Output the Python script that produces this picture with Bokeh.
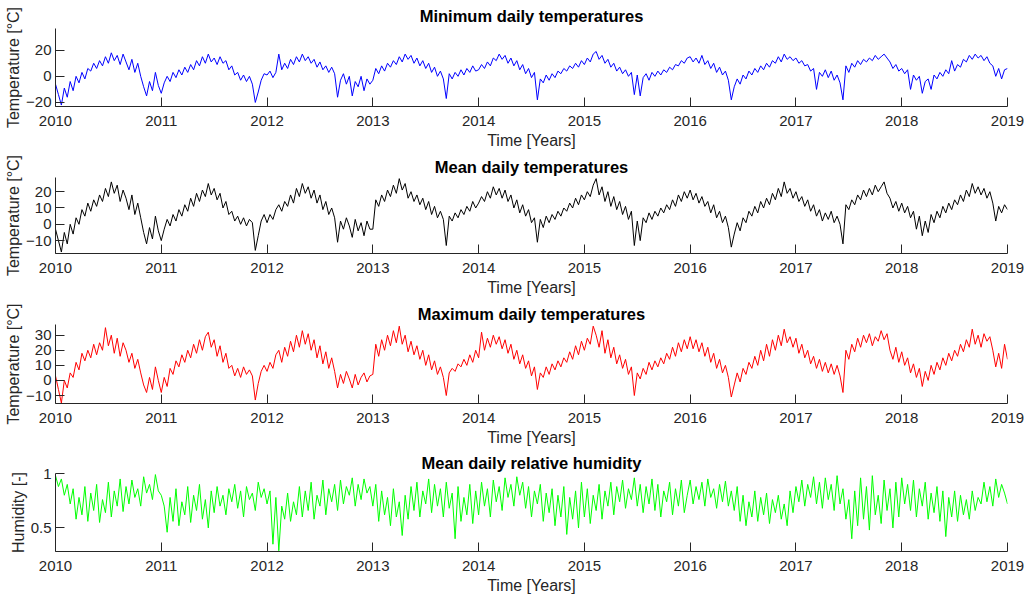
import numpy as np
from bokeh.plotting import figure
from bokeh.layouts import column
from bokeh.models import Range1d, FixedTicker
from bokeh.embed import file_html
from bokeh.resources import INLINE

# ---- data: values, ~every 10 days (36 per year) ----
start_year = 2010
samples_per_year = 36

tmin = [
    -6, -14, -22, -9, -16, -4, -11, 0, -5, 3, -2, 6,
    4, 10, 6, 12, 8, 15, 10, 18, 12, 16, 9, 17,
    11, 5, 13, 3, 10, 0, -8, -15, -4, -11, 3, -7,
    -13, -5, 0, -4, 3, -1, 5, 1, 7, 3, 9, 5,
    12, 8, 15, 10, 17, 11, 14, 9, 15, 10, 12, 5,
    8, 1, 3, -3, 1, -4, 0, -6, -20, -12, -3, 2,
    1, 4, -1, 3, 17, 5, 10, 6, 13, 9, 15, 11,
    17, 12, 15, 10, 13, 7, 11, 5, 8, 3, 7, 2,
    -16, -3, 2, -6, 0, -15, -4, -8, 0, -11, -2, -6,
    -3, 6, 2, 8, 4, 10, 7, 12, 9, 15, 11, 17,
    13, 16, 10, 14, 8, 12, 6, 10, 3, 7, 0, 4,
    -2, -17, 2, -2, 3, 0, 5, 1, 6, 3, 8, 4,
    5, 9, 6, 11, 8, 14, 12, 17, 13, 16, 10, 14,
    8, 12, 5, 9, 2, 6, -1, 3, -18, -2, -5, 1,
    -3, 2, -1, 4, 2, 6, 4, 8, 6, 10, 7, 12,
    9, 14, 11, 17, 19, 13, 16, 10, 13, 7, 10, 4,
    7, 2, 5, 0, 3, -14, 1, -15, -1, 2, -3, 3,
    0, 4, 1, 5, 3, 7, 5, 9, 8, 12, 10, 14,
    15, 11, 14, 10, 16, 9, 12, 6, 10, 3, 7, 1,
    4, -3, -18, -8, -2, -6, 1, -2, 4, 1, 6, 3,
    8, 5, 10, 7, 12, 10, 15, 11, 17, 13, 15, 12,
    14, 10, 12, 8, 9, 4, 6, -10, 3, 0, 5, -1,
    4, -3, 1, -5, -18, 8, 3, 10, 7, 12, 9, 13,
    11, 14, 12, 16, 13, 15, 17, 14, 11, 6, 9, 4,
    6, 2, 5, -10, 1, -3, 0, -13, -4, -2, -10, 1,
    -2, 3, 0, 5, 2, 12, 4, 9, 7, 13, 11, 16,
    13, 17, 14, 16, 12, 15, 10, 8, 0, 6, -2, 5,
    6,
]

tmean = [
    -3, -10, -17, -5, -12, 0, -6, 4, 0, 9, 5, 13,
    8, 15, 11, 18, 14, 22, 17, 26, 19, 24, 14, 21,
    16, 9, 18, 6, 13, 4, -5, -12, -2, -9, 5, -4,
    -10, -3, 3, -1, 6, 2, 9, 5, 12, 8, 16, 11,
    19, 14, 21, 17, 25, 18, 22, 15, 19, 10, 14, 6,
    8, 2, 5, 0, 4, -1, 3, 1, -16, -7, 2, 6,
    1, 6, 3, 9, 12, 8, 14, 11, 18, 13, 22, 17,
    25, 19, 23, 16, 21, 13, 18, 9, 14, 6, 10, 4,
    -11, 2, -3, 4, -1, -8, 3, -4, 1, -7, 2, -3,
    -3, 15, 11, 18, 14, 21, 17, 24, 19, 28, 21, 25,
    16, 20, 14, 18, 12, 16, 9, 14, 6, 11, 4, 8,
    3, -13, 5, 2, 7, 4, 9, 6, 11, 8, 14, 10,
    13, 17, 14, 20, 16, 23, 18, 22, 16, 21, 14, 18,
    10, 15, 7, 12, 5, 9, 1, 4, -11, 3, -2, 5,
    1, 6, 3, 8, 5, 10, 8, 13, 10, 16, 12, 18,
    15, 20, 17, 24, 28, 18, 23, 14, 20, 11, 17, 9,
    14, 6, 11, 3, 8, -13, 2, -10, 4, 1, 7, 3,
    8, 5, 10, 7, 12, 9, 15, 11, 18, 14, 20, 16,
    21, 15, 19, 13, 17, 11, 14, 7, 12, 4, 8, 1,
    5, -2, -14, -6, 1, -4, 4, 1, 8, 5, 11, 7,
    14, 10, 16, 12, 19, 15, 22, 17, 26, 19, 22, 16,
    20, 14, 17, 11, 15, 8, 12, 5, 9, 2, 7, 3,
    8, 1, 5, 0, -12, 12, 9, 15, 12, 18, 15, 21,
    17, 22, 18, 24, 20, 23, 26, 19, 16, 10, 14, 8,
    13, 7, 11, 4, 8, -3, 5, -7, 2, -5, 6, 1,
    8, 4, 11, 7, 13, 9, 15, 12, 18, 14, 21, 17,
    25, 19, 23, 18, 22, 16, 20, 13, 2, 11, 7, 12,
    9,
]

tmax = [
    3, -6, -15, 0, -5, 5, 2, 12, 7, 18, 13, 20,
    15, 24, 17, 25, 20, 35, 23, 30, 18, 28, 16, 25,
    20, 12, 18, 8, 14, 5, -3, -8, 2, -6, 9, 0,
    -8, 2, -4, 8, 4, 13, 9, 17, 12, 20, 15, 24,
    18, 27, 20, 29, 32, 22, 27, 16, 23, 12, 18, 8,
    10, 3, 8, 2, 9, 4, 7, 3, -13, -2, 6, 10,
    6, 12, 8, 17, 20, 12, 22, 16, 26, 19, 30, 22,
    33, 24, 31, 20, 27, 15, 23, 11, 19, 8, 15, 6,
    -5, 4, -2, 6, 1, -5, 4, -3, 2, 5, -1, 3,
    4, 24, 16, 27, 20, 30, 23, 33, 25, 36, 24, 30,
    19, 26, 17, 23, 14, 20, 10, 17, 7, 13, 4, 9,
    2, -10, 5, 8, 6, 11, 9, 14, 10, 17, 12, 20,
    15, 32, 20, 28, 22, 30, 24, 29, 21, 27, 18, 24,
    14, 20, 11, 17, 8, 13, 3, 9, -6, 5, 2, 9,
    4, 11, 7, 13, 9, 15, 12, 19, 14, 23, 17, 26,
    20, 28, 24, 36, 30, 22, 33, 18, 27, 15, 22, 11,
    17, 8, 14, 4, 9, -10, 5, 1, 8, 4, 12, 7,
    13, 9, 15, 11, 18, 14, 22, 16, 25, 19, 27, 21,
    29, 21, 27, 19, 25, 16, 22, 12, 18, 8, 14, 5,
    10, 2, -11, -3, 5, -1, 8, 4, 12, 8, 16, 10,
    20, 13, 24, 16, 27, 20, 30, 23, 34, 25, 29, 22,
    28, 18, 24, 15, 20, 11, 16, 8, 14, 6, 12, 5,
    11, 4, 10, 3, -8, 20, 14, 24, 19, 28, 22, 30,
    25, 31, 23, 29, 26, 33, 27, 31, 20, 14, 22, 12,
    19, 10, 15, 5, 11, 2, 8, -4, 6, 0, 10, 4,
    12, 7, 15, 10, 18, 13, 20, 16, 24, 19, 27, 22,
    34, 24, 30, 22, 31, 26, 29, 20, 9, 18, 8, 24,
    14,
]

humidity = [
    0.98, 0.88, 0.95, 0.80, 0.90, 0.72, 0.86, 0.58, 0.78, 0.62, 0.88, 0.56,
    0.82, 0.66, 0.90, 0.55, 0.76, 0.64, 0.92, 0.60, 0.84, 0.70, 0.95, 0.65,
    0.88, 0.72, 0.94, 0.78, 0.86, 0.70, 0.97, 0.82, 0.90, 0.76, 0.99, 0.84,
    0.80, 0.70, 0.46, 0.78, 0.56, 0.86, 0.52, 0.74, 0.62, 0.88, 0.55, 0.80,
    0.66, 0.90, 0.58, 0.76, 0.50, 0.84, 0.64, 0.88, 0.70, 0.80, 0.62, 0.86,
    0.74, 0.90, 0.68, 0.84, 0.60, 0.88, 0.76, 0.82, 0.66, 0.92, 0.78, 0.86,
    0.72, 0.84, 0.35, 0.78, 0.29, 0.70, 0.58, 0.82, 0.56, 0.74, 0.62, 0.88,
    0.60, 0.84, 0.66, 0.92, 0.58, 0.80, 0.70, 0.94, 0.62, 0.86, 0.74, 0.90,
    0.66, 0.94, 0.72, 0.88, 0.80, 0.96, 0.70, 0.90, 0.76, 0.95, 0.82, 0.88,
    0.70, 0.90, 0.56, 0.84, 0.62, 0.78, 0.52, 0.86, 0.60, 0.74, 0.43, 0.80,
    0.58, 0.88, 0.66, 0.92, 0.60, 0.84, 0.72, 0.95, 0.64, 0.90, 0.70, 0.86,
    0.60, 0.92, 0.68, 0.82, 0.40, 0.88, 0.56, 0.78, 0.62, 0.90, 0.54, 0.84,
    0.62, 0.92, 0.70, 0.86, 0.60, 0.94, 0.74, 0.88, 0.66, 0.96, 0.78, 0.90,
    0.70, 0.97, 0.80, 0.92, 0.68, 0.88, 0.60, 0.84, 0.72, 0.90, 0.56, 0.82,
    0.64, 0.86, 0.52, 0.80, 0.60, 0.88, 0.44, 0.78, 0.58, 0.84, 0.50, 0.92,
    0.60, 0.86, 0.54, 0.80, 0.66, 0.90, 0.58, 0.84, 0.70, 0.92, 0.62, 0.88,
    0.74, 0.94, 0.68, 0.86, 0.76, 0.96, 0.70, 0.90, 0.64, 0.88, 0.72, 0.95,
    0.66, 0.90, 0.60, 0.84, 0.74, 0.92, 0.62, 0.86, 0.70, 0.94, 0.64, 0.80,
    0.94, 0.72, 0.88, 0.76, 0.92, 0.70, 0.95, 0.78, 0.86, 0.68, 0.90, 0.74,
    0.93, 0.70, 0.84, 0.66, 0.88, 0.56, 0.80, 0.52, 0.74, 0.60, 0.84, 0.56,
    0.78, 0.62, 0.82, 0.54, 0.76, 0.64, 0.80, 0.58, 0.72, 0.52, 0.84, 0.64,
    0.88, 0.74, 0.94, 0.70, 0.90, 0.78, 0.97, 0.72, 0.92, 0.68, 0.96, 0.76,
    0.90, 0.66, 0.98, 0.72, 0.86, 0.58, 0.76, 0.40, 0.84, 0.52, 0.96, 0.58,
    0.88, 0.48, 0.98, 0.62, 0.80, 0.54, 0.94, 0.66, 0.86, 0.50, 0.92, 0.60,
    0.96, 0.72, 0.90, 0.66, 0.94, 0.60, 0.86, 0.70, 0.92, 0.58, 0.82, 0.64,
    0.88, 0.56, 0.84, 0.42, 0.78, 0.60, 0.84, 0.56, 0.80, 0.62, 0.76, 0.58,
    0.84, 0.66, 0.78, 0.72, 0.92, 0.74, 0.88, 0.70, 0.95, 0.78, 0.90, 0.82,
    0.72,
]

year_ticks = [2010, 2011, 2012, 2013, 2014, 2015, 2016, 2017, 2018, 2019]

titles = ["Minimum daily temperatures", "Mean daily temperatures",
          "Maximum daily temperatures", "Mean daily relative humidity"]
ylabels = ["Temperature [°C]", "Temperature [°C]", "Temperature [°C]", "Humidity [-]"]
colors = ["#0000FF", "#000000", "#FF0000", "#00FF00"]
y_ranges = [(-23.1, 36.6), (-17.9, 28.7), (-15.3, 37.1), (0.283, 1.0)]
y_ticks = [[-20, 0, 20], [-10, 0, 10, 20], [-10, 0, 10, 20, 30], [0.5, 1.0]]
series = [tmin, tmean, tmax, humidity]

# figure heights, bottom borders and title standoffs (px); top border is set by the title
fig_heights = [153, 147, 150, 152]
bottom_borders = [47, 47, 47, 51]
title_standoffs = [8, 4, 4, 3]

FONT = "Liberation Sans"
AX = "#262626"

figs = []
for i in range(4):
    vals = series[i]
    t = start_year + np.arange(len(vals)) / samples_per_year
    p = figure(width=1027, height=fig_heights[i],
               x_range=Range1d(2010, 2019), y_range=Range1d(*y_ranges[i]),
               output_backend="svg", toolbar_location=None,
               min_border_left=55, min_border_right=20,
               min_border_top=0, min_border_bottom=bottom_borders[i],
               title=titles[i])
    p.outline_line_color = None
    p.grid.visible = False
    p.background_fill_color = "white"
    p.border_fill_color = "white"

    p.title.text_font = FONT
    p.title.text_font_size = "16.5px"
    p.title.text_font_style = "bold"
    p.title.text_color = "#000000"
    p.title.align = "center"
    p.title.standoff = title_standoffs[i]

    p.line(t, vals, line_color=colors[i], line_width=1)

    xa = p.xaxis[0]
    xa.ticker = FixedTicker(ticks=year_ticks)
    xa.axis_label = "Time [Years]"
    ya = p.yaxis[0]
    ya.ticker = FixedTicker(ticks=y_ticks[i])
    ya.axis_label = ylabels[i]
    if i == 3:
        ya.major_label_overrides = {1.0: "1", 0.5: "0.5"}

    for ax in (xa, ya):
        ax.axis_line_color = AX
        ax.axis_line_width = 1
        ax.major_tick_line_color = AX
        ax.major_tick_in = 9
        ax.major_tick_out = 0
        ax.minor_tick_line_color = None
        ax.major_label_text_font = FONT
        ax.major_label_text_font_size = "15px"
        ax.major_label_text_color = AX
        ax.axis_label_text_font = FONT
        ax.axis_label_text_font_size = "16px"
        ax.axis_label_text_font_style = "normal"
        ax.axis_label_text_color = AX
    xa.major_label_standoff = 9
    xa.axis_label_standoff = 3
    ya.major_label_standoff = 4
    ya.axis_label_standoff = 1
    figs.append(p)

layout_col = column(*figs, spacing=0)
open("out.html", "w").write(file_html(layout_col, INLINE))
